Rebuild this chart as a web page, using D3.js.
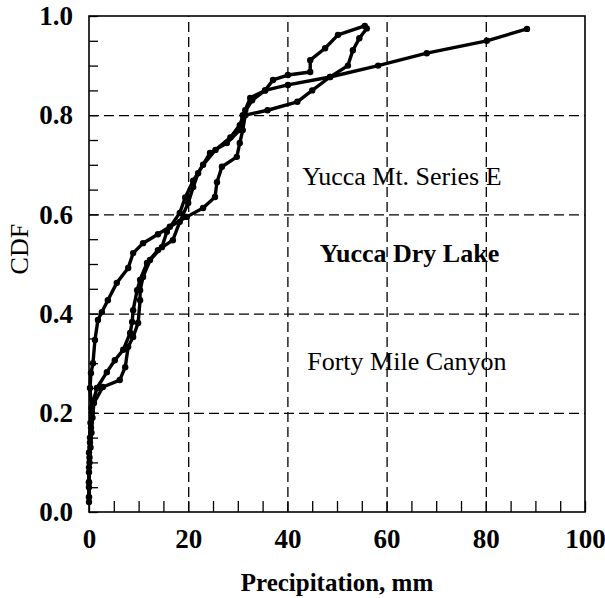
<!DOCTYPE html>
<html>
<head>
<meta charset="utf-8">
<script src="https://cdn.jsdelivr.net/npm/d3@7/dist/d3.min.js"></script>
<style>
  body { margin: 0; background: #fff; }
  svg { font-family: "Liberation Serif", "Times New Roman", serif; }
</style>
</head>
<body>
<svg id="chart" width="605" height="598"></svg>
<script>
// tick values
const xMajor = [0, 20, 40, 60, 80, 100];
const yMajor = [0, 0.2, 0.4, 0.6, 0.8, 1.0];
const xMinor = d3.range(0, 101, 5);
const yMinor = d3.range(0, 1.001, 0.05);

// curves, [precipitation mm, CDF]
const seriesE = [
  [0, 0.02], [0, 0.05], [0, 0.08], [0.1, 0.11], [0.2, 0.14], [0.4, 0.17], [0.6, 0.2],
  [0.9, 0.225], [1.6, 0.25], [3.6, 0.282], [5.2, 0.306], [6.9, 0.327], [8.3, 0.361],
  [8.7, 0.383], [8.9, 0.407], [9.7, 0.447], [10.3, 0.468], [11.7, 0.502], [13.9, 0.528],
  [16.9, 0.548], [18.3, 0.585], [20, 0.623], [21, 0.655], [22, 0.683], [24.4, 0.724],
  [27.8, 0.744], [30.4, 0.77], [31, 0.8], [32.9, 0.83], [35.5, 0.85], [37.1, 0.871],
  [40.1, 0.881], [44.6, 0.887], [44.6, 0.911], [47.6, 0.935], [50.2, 0.962], [55.6, 0.98]
];
const dryLake = [
  [0, 0.03], [0, 0.06], [0, 0.09], [0, 0.12], [0.2, 0.15], [0.3, 0.18], [0.5, 0.21],
  [0.2, 0.25], [0.4, 0.28], [0.8, 0.3], [1.2, 0.347], [1.8, 0.387], [2.6, 0.403],
  [3.8, 0.427], [5.6, 0.462], [7.9, 0.492], [8.9, 0.522], [10.9, 0.542], [13.9, 0.56],
  [16.3, 0.575], [19.7, 0.595], [23, 0.613], [25.4, 0.635], [25.8, 0.665], [26.8, 0.696],
  [29.8, 0.716], [30.4, 0.744], [31, 0.77], [31.5, 0.8], [36, 0.81], [42, 0.827],
  [45, 0.85], [48.6, 0.877], [52.2, 0.9], [53.2, 0.931], [54.5, 0.955], [56, 0.975]
];
const fortyMile = [
  [0, 0.03], [0, 0.06], [0.1, 0.1], [0.3, 0.13], [0.5, 0.16], [0.7, 0.19], [1, 0.22],
  [2.8, 0.252], [6.2, 0.266], [7.3, 0.292], [7.9, 0.333], [8.9, 0.353], [9.9, 0.381],
  [10.3, 0.427], [10.3, 0.447], [10.9, 0.474], [12.3, 0.508], [14.7, 0.534], [15.7, 0.565],
  [18.3, 0.603], [19.4, 0.634], [21, 0.668], [23, 0.7], [25.5, 0.73], [28.5, 0.755],
  [30.4, 0.78], [31.5, 0.81], [32.5, 0.835], [35.5, 0.85], [40.1, 0.861], [48.6, 0.877],
  [58.3, 0.9], [68.1, 0.925], [80.2, 0.95], [88.3, 0.974]
];

// text labels inside the plot, anchored at [x, y] in data units
const labels = [
  {text: 'Yucca Mt. Series E', at: [43, 0.659], bold: false},
  {text: 'Yucca Dry Lake', at: [46.5, 0.505], bold: true},
  {text: 'Forty Mile Canyon', at: [44, 0.286], bold: false}
];

const x = d3.scaleLinear().domain([0, 100]).range([89, 585]);
const y = d3.scaleLinear().domain([0, 1]).range([512, 16]);
const plotW = 585 - 89, plotH = 512 - 16;

const svg = d3.select('#chart');

// dashed grid
svg.append('g')
  .attr('transform', `translate(0, ${y(0)})`)
  .call(d3.axisBottom(x).tickValues(xMajor.slice(1, -1)).tickSize(-plotH).tickFormat(''))
  .call(g => g.select('.domain').remove())
  .selectAll('line')
  .attr('stroke', '#000').attr('stroke-width', 1.3).attr('stroke-dasharray', '10,5');

svg.append('g')
  .attr('transform', `translate(${x(0)}, 0)`)
  .call(d3.axisLeft(y).tickValues(yMajor.slice(1, -1)).tickSize(-plotW).tickFormat(''))
  .call(g => g.select('.domain').remove())
  .selectAll('line')
  .attr('stroke', '#000').attr('stroke-width', 1.3).attr('stroke-dasharray', '10,5');

// minor ticks, pointing inward
svg.append('g')
  .attr('transform', `translate(0, ${y(0)})`)
  .call(d3.axisBottom(x).tickValues(xMinor).tickSize(-11).tickFormat(''))
  .call(g => g.select('.domain').remove())
  .selectAll('line').attr('stroke', '#000').attr('stroke-width', 1.3);

svg.append('g')
  .attr('transform', `translate(${x(0)}, 0)`)
  .call(d3.axisLeft(y).tickValues(yMinor).tickSize(-9).tickFormat(''))
  .call(g => g.select('.domain').remove())
  .selectAll('line').attr('stroke', '#000').attr('stroke-width', 1.3);

// frame
svg.append('rect')
  .attr('x', x(0)).attr('y', y(1))
  .attr('width', plotW).attr('height', plotH)
  .attr('fill', 'none').attr('stroke', '#000').attr('stroke-width', 1.6);

// tick labels
svg.append('g')
  .attr('transform', `translate(0, ${y(0)})`)
  .call(d3.axisBottom(x).tickValues(xMajor).tickSize(0).tickPadding(17).tickFormat(d3.format('d')))
  .call(g => g.select('.domain').remove())
  .selectAll('text')
  .attr('font-family', '"Liberation Serif", serif')
  .attr('font-size', 27).attr('font-weight', 'bold').attr('fill', '#000');

svg.append('g')
  .attr('transform', `translate(${x(0)}, 0)`)
  .call(d3.axisLeft(y).tickValues(yMajor).tickSize(0).tickPadding(16).tickFormat(d3.format('.1f')))
  .call(g => g.select('.domain').remove())
  .selectAll('text')
  .attr('font-family', '"Liberation Serif", serif')
  .attr('font-size', 27).attr('font-weight', 'bold').attr('fill', '#000');

// axis titles
svg.append('text')
  .attr('x', (x(0) + x(100)) / 2).attr('y', 591)
  .attr('text-anchor', 'middle')
  .attr('font-size', 25).attr('font-weight', 'bold')
  .text('Precipitation, mm');

svg.append('text')
  .attr('transform', `translate(28, ${y(0.53)}) rotate(-90)`)
  .attr('text-anchor', 'middle')
  .attr('font-size', 26)
  .text('CDF');

// curves
const line = d3.line().x(d => x(d[0])).y(d => y(d[1]));
[seriesE, dryLake, fortyMile].forEach(data => {
  svg.append('path')
    .datum(data)
    .attr('d', line)
    .attr('fill', 'none')
    .attr('stroke', '#000')
    .attr('stroke-width', 3.4)
    .attr('stroke-linejoin', 'round');
  svg.append('g')
    .selectAll('circle')
    .data(data)
    .enter()
    .append('circle')
    .attr('cx', d => x(d[0]))
    .attr('cy', d => y(d[1]))
    .attr('r', 3.2)
    .attr('fill', '#000');
});

// in-plot labels
svg.append('g')
  .selectAll('text')
  .data(labels)
  .enter()
  .append('text')
  .attr('x', d => x(d.at[0]))
  .attr('y', d => y(d.at[1]))
  .attr('font-size', 26)
  .attr('font-weight', d => d.bold ? 'bold' : 'normal')
  .text(d => d.text);
</script>
</body>
</html>
